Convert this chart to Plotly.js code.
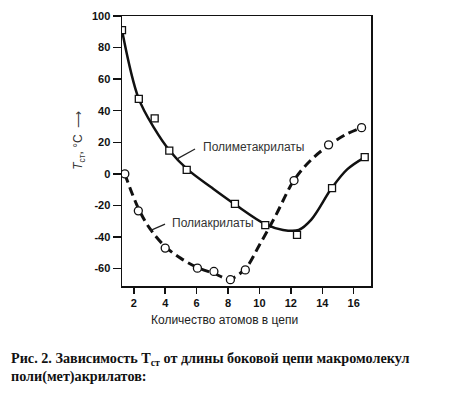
<!DOCTYPE html>
<html><head><meta charset="utf-8">
<script src="https://cdn.plot.ly/plotly-3.0.1.min.js"></script>
<style>body{margin:0;background:#fff}#c{width:463px;height:397px}</style>
</head><body><div id="c"></div>
<script>
// Polymethacrylates (squares)
const pmaX = [1.25, 2.32, 3.33, 4.26, 5.37, 8.44, 10.37, 12.39, 14.62, 16.7];
const pmaY = [91, 47.5, 35.2, 14.7, 2.5, -19, -32.5, -38.6, -9, 10.6];
// smooth curve through polymethacrylates
const pmaCurveX = [1.25, 2.3, 3.3, 4.3, 5.4, 7, 8.4, 10.4, 11.5, 12.5, 13.3, 14.6, 15.6, 16.7];
const pmaCurveY = [91, 48, 29, 14.5, 3, -9, -19, -32, -35.5, -35.5, -29, -9, 3, 10.5];
// Polyacrylates (circles)
const paX = [1.43, 2.29, 4.0, 6.05, 7.1, 8.15, 9.1, 12.2, 14.4, 16.5];
const paY = [0, -23.4, -47, -59.7, -61.8, -67, -60.8, -4.2, 18.4, 29.3];
const paCurveX = [1.43, 2.3, 3.05, 4, 5, 6.1, 7.1, 8.1, 9.1, 10, 11, 12.2, 13.3, 14.4, 15.5, 16.5];
const paCurveY = [0, -22, -35, -46, -53.5, -59.5, -63, -66.5, -60, -45, -27, -4, 9, 18, 25, 29.3];
// ticks
const xTicks = [2, 4, 6, 8, 10, 12, 14, 16];
const yTicks = [-60, -40, -20, 0, 20, 40, 60, 80, 100];
const yTickText = ['-60', '-40', '-20', '0', '20', '40', '60', '80', '100'];

const traces = [
  {x: pmaCurveX, y: pmaCurveY, mode: 'lines', line: {color: '#111', width: 2.5, shape: 'spline', smoothing: 1}, hoverinfo: 'skip'},
  {x: paCurveX, y: paCurveY, mode: 'lines', line: {color: '#111', width: 3, shape: 'spline', smoothing: 1, dash: '9px,5px'}, hoverinfo: 'skip'},
  {x: pmaX, y: pmaY, mode: 'markers', marker: {symbol: 'square', size: 7, color: '#fff', line: {color: '#111', width: 1.3}}},
  {x: paX, y: paY, mode: 'markers', marker: {symbol: 'circle', size: 8, color: '#fff', line: {color: '#111', width: 1.3}}}
];

const tickFont = {family: 'Liberation Sans, Arial, sans-serif', size: 11, color: '#111', weight: 'bold'};
const layout = {
  width: 463, height: 397,
  margin: {l: 122, r: 92, t: 16, b: 111},
  paper_bgcolor: '#fff', plot_bgcolor: '#fff',
  showlegend: false,
  xaxis: {range: [1.25, 17.1], tickvals: xTicks, ticks: 'outside', ticklen: 6, tickwidth: 1.5, tickcolor: '#111',
    showline: true, linecolor: '#111', linewidth: 1.5, mirror: true, showgrid: false, zeroline: false,
    tickfont: tickFont},
  yaxis: {range: [-71, 100], tickvals: yTicks, ticktext: yTickText, ticks: 'outside', ticklen: 8, tickwidth: 1.5, tickcolor: '#111',
    showline: true, linecolor: '#111', linewidth: 1.5, mirror: true, showgrid: false, zeroline: false,
    tickfont: tickFont},
  annotations: [
    {xref: 'x', yref: 'y', x: 6.29, y: 17, text: 'Полиметакрилаты', showarrow: false, xanchor: 'left', yanchor: 'middle',
      font: {family: 'Liberation Sans, Arial, sans-serif', size: 12, color: '#333'}},
    {xref: 'x', yref: 'y', x: 4.31, y: -31.2, text: 'Полиакрилаты', showarrow: false, xanchor: 'left', yanchor: 'middle',
      font: {family: 'Liberation Sans, Arial, sans-serif', size: 12, color: '#333'}},
    {xref: 'paper', yref: 'paper', x: 0.41, y: -0.125, text: 'Количество атомов в цепи', showarrow: false, xanchor: 'center', yanchor: 'middle',
      font: {family: 'Liberation Sans, Arial, sans-serif', size: 12, color: '#222'}},
    {xref: 'paper', yref: 'paper', x: -0.17, y: 0.54, text: '<i>T</i><sub>ст</sub>, °C  ⟶', textangle: -90, showarrow: false, xanchor: 'center', yanchor: 'middle',
      font: {family: 'Liberation Sans, Arial, sans-serif', size: 12, color: '#333'}},
    {xref: 'paper', yref: 'paper', x: -0.455, y: -0.27, text: '<b>Рис. 2. Зависимость T<sub>ст</sub> от длины боковой цепи макромолекул</b>', showarrow: false, xanchor: 'left', yanchor: 'middle',
      font: {family: 'Liberation Serif, Times New Roman, serif', size: 14.2, color: '#111'}},
    {xref: 'paper', yref: 'paper', x: -0.455, y: -0.335, text: '<b>поли(мет)акрилатов:</b>', showarrow: false, xanchor: 'left', yanchor: 'middle',
      font: {family: 'Liberation Serif, Times New Roman, serif', size: 14.2, color: '#111'}}
  ],
  shapes: [
    {type: 'line', xref: 'x', yref: 'y', x0: 4.76, y0: 9.5, x1: 5.9, y1: 15.8, line: {color: '#222', width: 1.2}},
    {type: 'line', xref: 'x', yref: 'y', x0: 3.04, y0: -35.9, x1: 3.99, y1: -31.8, line: {color: '#222', width: 1.2}}
  ]
};
Plotly.newPlot('c', traces, layout, {displayModeBar: false, staticPlot: true});
</script></body></html>
